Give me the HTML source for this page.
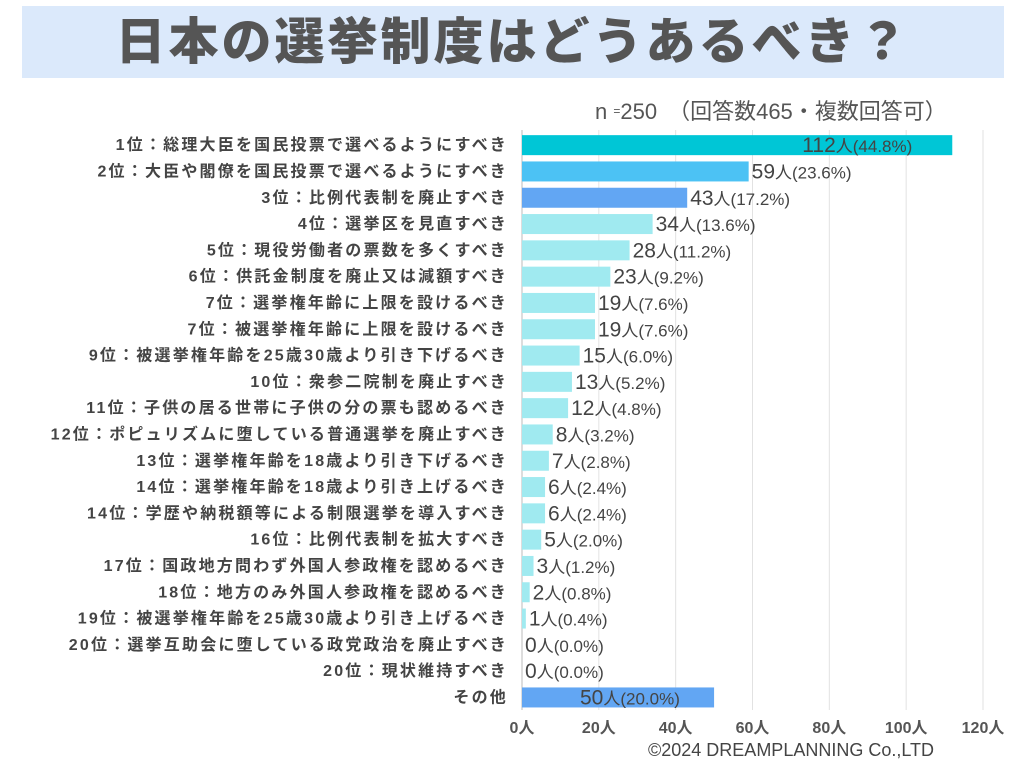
<!DOCTYPE html>
<html><head><meta charset="utf-8"><style>
body{margin:0;width:1024px;height:768px;background:#fff;font-family:"Liberation Sans","Noto Sans CJK JP",sans-serif;overflow:hidden;position:relative}
#title{position:absolute;left:22px;top:6px;width:982px;height:72px;background:#dbe9fb;color:#555;font-size:50px;font-weight:900;text-align:center;line-height:72px;letter-spacing:3px}
#sub{position:absolute;left:595px;top:94px;font-size:22px;color:#555}
#copy{position:absolute;left:648px;top:740px;font-size:18px;color:#444}
</style></head><body>
<div id="title">日本の選挙制度はどうあるべき？</div>
<div id="sub">n <span style="font-size:12px;vertical-align:4px">=</span>250　（回答数465・複数回答可）</div>
<svg id="chart" width="1024" height="768" style="position:absolute;left:0;top:0"></svg>
<div id="copy">©2024 DREAMPLANNING Co.,LTD</div>
<script>
const categories=["1位：総理大臣を国民投票で選べるようにすべき","2位：大臣や閣僚を国民投票で選べるようにすべき","3位：比例代表制を廃止すべき","4位：選挙区を見直すべき","5位：現役労働者の票数を多くすべき","6位：供託金制度を廃止又は減額すべき","7位：選挙権年齢に上限を設けるべき","7位：被選挙権年齢に上限を設けるべき","9位：被選挙権年齢を25歳30歳より引き下げるべき","10位：衆参二院制を廃止すべき","11位：子供の居る世帯に子供の分の票も認めるべき","12位：ポピュリズムに堕している普通選挙を廃止すべき","13位：選挙権年齢を18歳より引き下げるべき","14位：選挙権年齢を18歳より引き上げるべき","14位：学歴や納税額等による制限選挙を導入すべき","16位：比例代表制を拡大すべき","17位：国政地方問わず外国人参政権を認めるべき","18位：地方のみ外国人参政権を認めるべき","19位：被選挙権年齢を25歳30歳より引き上げるべき","20位：選挙互助会に堕している政党政治を廃止すべき","20位：現状維持すべき","その他"];
const values=[112,59,43,34,28,23,19,19,15,13,12,8,7,6,6,5,3,2,1,0,0,50];
const percents=["44.8","23.6","17.2","13.6","11.2","9.2","7.6","7.6","6.0","5.2","4.8","3.2","2.8","2.4","2.4","2.0","1.2","0.8","0.4","0.0","0.0","20.0"];
const ticks=[0,20,40,60,80,100,120];
const svg=document.getElementById('chart');const NS="http://www.w3.org/2000/svg";
const x0=522,x1=983,xmax=120,top0=132,rowH=26.3;
const xs=v=>x0+(x1-x0)*v/xmax;
const yc=i=>top0+rowH*(i+0.5);
function mk(t,a){const e=document.createElementNS(NS,t);for(const k in a)e.setAttribute(k,a[k]);svg.appendChild(e);return e;}
ticks.forEach(t=>{
 const g=mk('line',{x1:xs(t),x2:xs(t),y1:130,y2:710,stroke:t===0?'#bbb':'#e2e2e2','stroke-width':1});
 
 
 const l=mk('text',{x:xs(t),y:733,'text-anchor':'middle','font-size':16,'font-weight':'bold',fill:'#555'});
 l.textContent=t+'人';
 
 
});
const colors=values.map((v,i)=>i===0?'#00c6d6':i===1?'#4cc2f4':i===2||i===21?'#62a6f3':'#a0eaf0');
categories.forEach((c,i)=>{
 const y=yc(i);
 const lab=mk('text',{x:508,y:y+5,'text-anchor':'end','font-size':16,'font-weight':'bold',fill:'#444','letter-spacing':'2.2'});
 lab.textContent=c;
 
 
 const w=xs(values[i])-x0;
 const b=mk('rect',{x:x0,y:y-10,width:Math.max(w,0),height:20,fill:colors[i]});
 
 
 const inside=i===0||i===21;
 const tx=inside?(i===0?xs(values[i])-150:x0+58):xs(values[i])+3;
 const t=mk('text',{x:tx,y:y+7,'font-size':17,fill:'#444'});
 const s1=document.createElementNS(NS,'tspan');s1.setAttribute('font-size','21');s1.textContent=values[i];t.appendChild(s1);
 const s2=document.createElementNS(NS,'tspan');s2.setAttribute('font-size','17');s2.textContent='人';t.appendChild(s2);
 const s3=document.createElementNS(NS,'tspan');s3.textContent='('+percents[i]+'%)';t.appendChild(s3);
 
 
});
</script>
</body></html>
